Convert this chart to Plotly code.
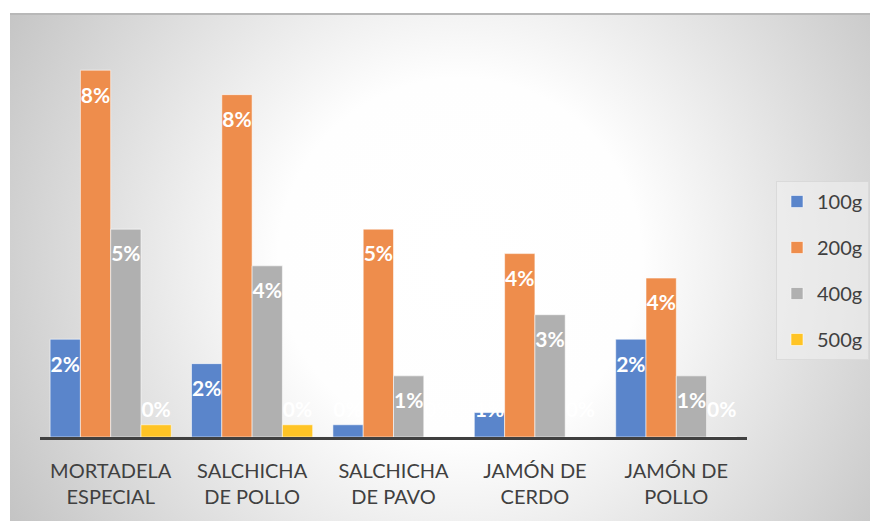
import base64
import plotly.graph_objects as go

categories = ["MORTADELA<br>ESPECIAL", "SALCHICHA<br>DE POLLO", "SALCHICHA<br>DE PAVO",
              "JAMÓN DE<br>CERDO", "JAMÓN DE<br>POLLO"]
series_names = ["100g", "200g", "400g", "500g"]
v100 = [0.0224, 0.0168, 0.0028, 0.0056, 0.0224]
v200 = [0.0840, 0.0784, 0.0476, 0.0420, 0.0364]
v400 = [0.0476, 0.0392, 0.0140, 0.0280, 0.0140]
v500 = [0.0028, 0.0028, 0.0000, 0.0000, 0.0000]
series_values = [v100, v200, v400, v500]
colors = ["#5A85CB", "#EE8D4C", "#B0B0B0", "#FFC425"]

FONT = "Lato, 'Liberation Sans', sans-serif"

# chart-area radial gradient background as inline SVG
svg = (
    '<svg xmlns="http://www.w3.org/2000/svg" width="860" height="508" viewBox="0 0 860 508" '
    'preserveAspectRatio="none">'
    '<defs><radialGradient id="g" gradientUnits="userSpaceOnUse" cx="450" cy="247" r="520">'
    '<stop offset="0" stop-color="#ffffff"/>'
    '<stop offset="0.35" stop-color="#fefefe"/>'
    '<stop offset="1" stop-color="#c4c4c4"/>'
    '</radialGradient></defs>'
    '<rect x="0" y="0" width="860" height="508" fill="url(#g)"/>'
    '<line x1="0" y1="1" x2="860" y2="1" stroke="#b8b8b8" stroke-width="2"/>'
    '</svg>'
)
svg_uri = "data:image/svg+xml;base64," + base64.b64encode(svg.encode()).decode()

fig = go.Figure()
for name, vals, col in zip(series_names, series_values, colors):
    fig.add_trace(go.Bar(
        x=categories, y=vals, name=name, legendgroup=name,
        offsetgroup=name, alignmentgroup="g",
        marker=dict(color=col, line=dict(color="rgba(255,255,255,0.55)", width=1)),
        hoverinfo="skip",
    ))

for name, vals in zip(series_names, series_values):
    fig.add_trace(go.Scatter(
        x=categories,
        y=[max(v - 0.0062, 0.0057) for v in vals],
        customdata=vals,
        mode="text",
        texttemplate="%{customdata:.0%}",
        textposition="middle center",
        textfont=dict(color="white", size=21, family=FONT, weight="bold"),
        offsetgroup=name, alignmentgroup="g",
        showlegend=False,
        hoverinfo="skip",
    ))

W, H = 870, 521
ml, mr, mt, mb = 40, 123, 44, 84
pw, ph = W - ml - mr, H - mt - mb

fig.update_layout(
    width=W, height=H,
    margin=dict(l=ml, r=mr, t=mt, b=mb, autoexpand=False),
    paper_bgcolor="white",
    plot_bgcolor="rgba(0,0,0,0)",
    barmode="group", bargap=0.143, bargroupgap=0,
    scattermode="group", scattergap=0.143,
    showlegend=True,
    legend=dict(
        xref="container", yref="container",
        x=776 / W, xanchor="left",
        y=1 - 181 / H, yanchor="top",
        bgcolor="rgba(240,240,240,0.6)",
        bordercolor="rgba(215,215,215,0.8)", borderwidth=1,
        font=dict(family=FONT, size=20, color="#404040"),
        tracegroupgap=17,
    ),
    xaxis=dict(
        showline=True, linecolor="#404040", linewidth=3,
        ticks="", showgrid=False,
        tickfont=dict(family=FONT, size=20, color="#404040"),
        ticklabelstandoff=14,
    ),
    yaxis=dict(visible=False, range=[0, 0.09], showgrid=False, zeroline=False),
    images=[dict(
        source=svg_uri, xref="paper", yref="paper",
        x=(10 - ml) / pw, y=(437 - 13) / ph,
        sizex=(870 - 10) / pw, sizey=(521 - 13) / ph,
        xanchor="left", yanchor="top", sizing="stretch", layer="below",
    )],
)

fig.write_html("out.html", config={"displayModeBar": False},
               post_script="document.body.style.margin='0';document.body.style.overflow='hidden';")
